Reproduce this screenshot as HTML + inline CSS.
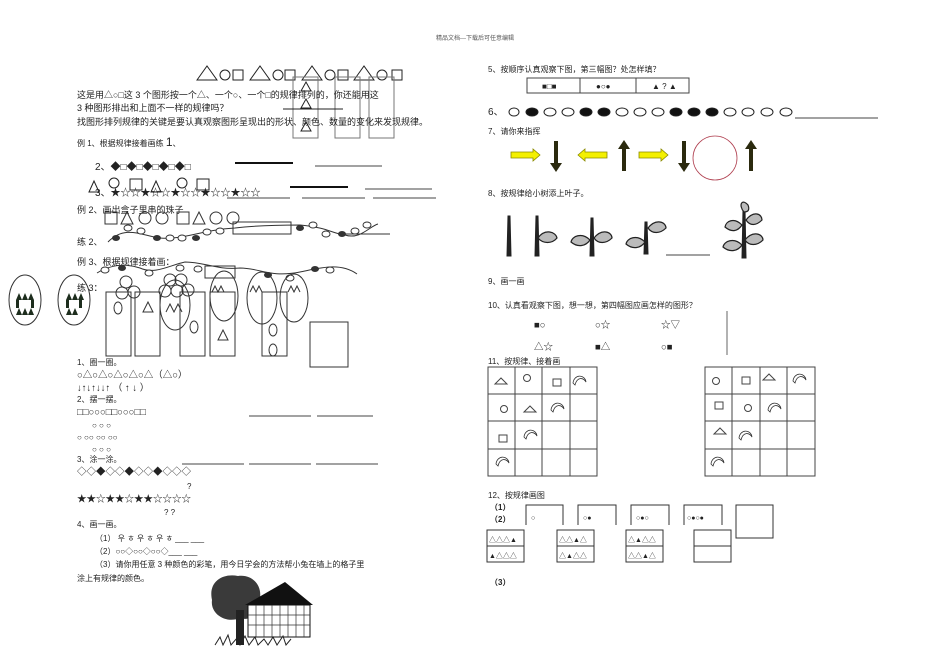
<!DOCTYPE html>
<html><head><meta charset="utf-8"><style>
html,body{margin:0;padding:0;background:#fff;}
svg{display:block;}
text{font-family:"Liberation Sans","Noto Sans CJK SC",sans-serif;font-size:9px;fill:#222;}
.s{font-size:8px;}
.m{font-size:9.5px;}
</style></head><body>
<svg width="950" height="672" viewBox="0 0 950 672" xmlns="http://www.w3.org/2000/svg">
<defs>
<path id="cres" d="M0,6 C1,-3 12,-3 13,5 C10,0 4,0 2,8 Z" fill="none" stroke="#333" stroke-width="0.8"/>
</defs>
<text x="475" y="40" text-anchor="middle" style="font-size:6px;fill:#555">精品文档---下载后可任意编辑</text>

<!-- LEFT COLUMN -->
<g fill="none" stroke="#222" stroke-width="1">
<path d="M197,80 l10,-14 l10,14z"/><circle cx="225" cy="75" r="5"/><rect x="233" y="70" width="10" height="10"/>
<path d="M250,80 l10,-14 l10,14z"/><circle cx="278" cy="75" r="5"/><rect x="285" y="70" width="10" height="10"/>
<path d="M302,80 l10,-14 l10,14z"/><circle cx="330" cy="75" r="5"/><rect x="338" y="70" width="10" height="10"/>
<path d="M354,80 l10,-14 l10,14z"/><circle cx="382" cy="75" r="5"/><rect x="392" y="70" width="10" height="10"/>
<rect x="293" y="77" width="25" height="61" stroke="#777"/><rect x="335" y="77" width="25" height="61" stroke="#777"/><rect x="369" y="77" width="25" height="61" stroke="#777"/>
<path d="M301,91 l5,-9 l5,9z M301,108 l5,-9 l5,9z M301,131 l5,-9 l5,9z"/>
</g>
<line x1="283" y1="109" x2="343" y2="109" stroke="#222"/>
<text x="77" y="98">这是用△○□这 3 个图形按一个△、一个○、一个□的规律排列的，你还能用这</text>
<text x="77" y="111">3 种图形排出和上面不一样的规律吗？</text>
<text x="77" y="125">找图形排列规律的关键是要认真观察图形呈现出的形状、颜色、数量的变化来发现规律。</text>
<text x="77" y="146" class="s">例 1、根据规律接着画练 <tspan style="font-size:12px">1</tspan>、</text>
<text x="95" y="170" style="font-size:10px">2、◆□◆□◆□◆□◆□</text>
<line x1="235" y1="163" x2="293" y2="163" stroke="#111" stroke-width="2"/>
<line x1="315" y1="166" x2="382" y2="166" stroke="#444"/>
<g fill="none" stroke="#222">
<path d="M89,192 l5,-11 l5,11z"/><circle cx="114" cy="183" r="5"/><rect x="130" y="179" width="12" height="11"/>
<path d="M151,192 l5,-11 l5,11z"/><circle cx="182" cy="183" r="5"/><rect x="197" y="179" width="12" height="11"/>
</g>
<text x="95" y="196" style="font-size:10px">3、★☆☆★☆☆★☆☆★☆☆★☆☆</text>
<line x1="290" y1="187" x2="348" y2="187" stroke="#111" stroke-width="2"/>
<line x1="365" y1="189" x2="432" y2="189" stroke="#444"/>
<line x1="227" y1="198" x2="290" y2="198" stroke="#444"/><line x1="302" y1="198" x2="365" y2="198" stroke="#444"/><line x1="373" y1="198" x2="436" y2="198" stroke="#444"/>
<text x="77" y="213">例 2、画出盒子里串的珠子</text>
<g fill="none" stroke="#333">
<rect x="105" y="212" width="12" height="12"/><path d="M121,224 l6,-12 l6,12z"/><circle cx="145" cy="218" r="6"/><circle cx="162" cy="218" r="6"/>
<rect x="177" y="212" width="12" height="12"/><path d="M193,224 l6,-12 l6,12z"/><circle cx="216" cy="218" r="6"/><circle cx="233" cy="218" r="6"/>
<path d="M108,242 C125,225 140,235 160,238 C185,240 200,230 235,228 C260,225 290,225 300,225 C330,228 330,233 345,235 C360,240 370,226 378,224"/>
<rect x="233" y="222" width="58" height="12"/>
<line x1="345" y1="234" x2="390" y2="234"/>
</g>
<g fill="#333"><ellipse cx="116" cy="238" rx="4" ry="3"/><ellipse cx="157" cy="238" rx="4" ry="3"/><ellipse cx="196" cy="238" rx="4" ry="3"/><ellipse cx="300" cy="228" rx="4" ry="3"/><ellipse cx="342" cy="234" rx="4" ry="3"/></g>
<g fill="#fff" stroke="#333"><ellipse cx="128" cy="228" rx="4" ry="3"/><ellipse cx="141" cy="231" rx="4" ry="3"/><ellipse cx="170" cy="238" rx="4" ry="3"/><ellipse cx="182" cy="238" rx="4" ry="3"/><ellipse cx="207" cy="232" rx="4" ry="3"/><ellipse cx="220" cy="231" rx="4" ry="3"/><ellipse cx="313" cy="225" rx="4" ry="3"/><ellipse cx="326" cy="234" rx="4" ry="3"/><ellipse cx="355" cy="231" rx="4" ry="3"/><ellipse cx="367" cy="225" rx="4" ry="3"/></g>
<text x="77" y="245">练 2、</text>
<text x="77" y="265">例 3、根据规律接着画：</text>
<g fill="none" stroke="#333">
<path d="M97,273 C110,265 125,263 140,268 C155,275 170,265 185,262 C205,262 215,270 240,268 C260,268 270,278 300,272 C320,268 340,262 357,274"/>
<rect x="205" y="266" width="30" height="12"/>
</g>
<g fill="#333"><ellipse cx="122" cy="268" rx="4" ry="3"/><ellipse cx="268" cy="275" rx="4" ry="3"/><ellipse cx="315" cy="269" rx="4" ry="3"/></g>
<g fill="#fff" stroke="#333"><ellipse cx="105" cy="270" rx="4" ry="3"/><ellipse cx="149" cy="273" rx="4" ry="3"/><ellipse cx="180" cy="268" rx="4" ry="3"/><ellipse cx="198" cy="269" rx="4" ry="3"/><ellipse cx="290" cy="278" rx="4" ry="3"/><ellipse cx="330" cy="270" rx="4" ry="3"/></g>
<text x="77" y="291">练 3：</text>
<g fill="none" stroke="#333">
<ellipse cx="25" cy="300" rx="16" ry="25"/><ellipse cx="74" cy="300" rx="16" ry="25"/>
<ellipse cx="175" cy="305" rx="15" ry="25"/><ellipse cx="224" cy="296" rx="14" ry="25"/><ellipse cx="262" cy="298" rx="15" ry="26"/><ellipse cx="294" cy="298" rx="14" ry="24"/>
<rect x="106" y="292" width="25" height="64"/><rect x="135" y="292" width="25" height="64"/><rect x="180" y="292" width="25" height="64"/><rect x="210" y="292" width="25" height="64"/><rect x="262" y="292" width="25" height="64"/>
<rect x="310" y="322" width="38" height="45"/>
<circle cx="126" cy="282" r="6"/><circle cx="122" cy="293" r="6"/><circle cx="134" cy="292" r="6"/>
<circle cx="170" cy="280" r="6"/><circle cx="181" cy="280" r="6"/><circle cx="165" cy="291" r="6"/><circle cx="177" cy="291" r="6"/><circle cx="188" cy="290" r="6"/>
<ellipse cx="118" cy="308" rx="4" ry="6"/><path d="M143,312 l5,-10 l5,10z"/><ellipse cx="194" cy="327" rx="4" ry="6"/><path d="M218,340 l5,-10 l5,10z"/><ellipse cx="273" cy="330" rx="4" ry="6"/><ellipse cx="273" cy="350" rx="4" ry="6"/>
<path d="M166,312 l4,-8 l4,8 l4,-8 l4,8 M212,292 l3,-6 l3,6 l3,-6 l3,6 M250,292 l3,-6 l3,6 l3,-6 l3,6 M288,292 l3,-6 l3,6 l3,-6 l3,6"/>
</g>
<g fill="#1d2d1d"><path d="M16,300 l3,-7 l3,7 l3,-7 l3,7 l3,-7 l3,7z M16,315 l3,-7 l3,7 l3,-7 l3,7 l3,-7 l3,7z"/><rect x="16" y="300" width="3" height="8"/><rect x="31" y="300" width="3" height="8"/>
<path d="M66,300 l3,-7 l3,7 l3,-7 l3,7 l3,-7 l3,7z M66,315 l3,-7 l3,7 l3,-7 l3,7z"/><rect x="66" y="300" width="3" height="8"/><rect x="79" y="300" width="3" height="8"/></g>

<text x="77" y="365" class="s">1、圈一圈。</text>
<text x="77" y="378" class="m">○△○△○△○△○△（△○）</text>
<text x="77" y="391" class="m">↓↑↓↑↓↓↑ （ ↑  ↓ ）</text>
<text x="77" y="402" class="s">2、摆一摆。</text>
<text x="77" y="415" class="m">□□○○○□□○○○□□</text>
<line x1="249" y1="416" x2="311" y2="416" stroke="#444"/><line x1="317" y1="416" x2="373" y2="416" stroke="#444"/>
<text x="92" y="428" class="s">○        ○        ○</text>
<text x="77" y="440" class="s">○  ○○    ○○    ○○</text>
<text x="92" y="452" class="s">○        ○        ○</text>
<text x="77" y="462" class="s">3、涂一涂。</text>
<line x1="182" y1="464" x2="244" y2="464" stroke="#444"/><line x1="249" y1="464" x2="311" y2="464" stroke="#444"/><line x1="316" y1="464" x2="378" y2="464" stroke="#444"/>
<text x="77" y="475" class="m">◇◇◆◇◇◆◇◇◆◇◇◇</text>
<text x="187" y="489" class="s">?</text>
<text x="77" y="502" class="m">★★☆★★☆★★☆☆☆☆</text>
<text x="164" y="515" class="s">? ?</text>
<text x="77" y="527" class="s">4、画一画。</text>
<text x="95" y="541" class="s">（1） 우 ㅎ 우 ㅎ 우 ㅎ  ___  ___</text>
<text x="95" y="554" class="s">（2）○○◇○○◇○○◇___  ___</text>
<text x="95" y="567" class="s">（3）请你用任意 3 种颜色的彩笔，用今日学会的方法帮小兔在墙上的格子里</text>
<text x="77" y="581" class="s">涂上有规律的颜色。</text>
<!-- tree and house -->
<g>
<path d="M212,600 C208,582 222,573 238,576 C252,574 262,585 260,598 C264,612 250,622 240,618 C226,624 210,614 212,600Z" fill="#3a3a3a"/>
<rect x="236" y="610" width="8" height="35" fill="#222"/>
<path d="M245,605 L285,582 L313,605 Z" fill="#111"/>
<rect x="248" y="605" width="62" height="32" fill="#fff" stroke="#111"/>
<g stroke="#333" stroke-width="0.7"><line x1="248" y1="615" x2="310" y2="615"/><line x1="248" y1="625" x2="310" y2="625"/>
<path d="M256,605v32M264,605v32M272,605v32M280,605v32M288,605v32M296,605v32M304,605v32"/></g>
<path d="M215,645 l5,-8 l3,8 l5,-10 l3,10 l6,-7 l3,7 l5,-9 l4,9 l6,-8 l3,8 l6,-6 l4,6 l5,-8 l4,8 l6,-9 l3,9 l5,-6" fill="none" stroke="#222"/>
</g>

<!-- RIGHT COLUMN -->
<text x="488" y="72" class="s">5、按顺序认真观察下图，第三幅图？处怎样填？</text>
<g fill="none" stroke="#444"><rect x="527" y="78" width="53" height="15"/><rect x="580" y="78" width="56" height="15"/><rect x="636" y="78" width="53" height="15"/></g>
<text x="542" y="89" class="s">■□■</text><text x="596" y="89" class="s">●○●</text><text x="652" y="89" class="s">▲ ? ▲</text>
<text x="488" y="115" style="font-size:10px">6、</text>
<g stroke="#222" fill="#fff">
<ellipse cx="514" cy="112" rx="5" ry="4"/><ellipse cx="532" cy="112" rx="6" ry="4" fill="#111"/><ellipse cx="550" cy="112" rx="6" ry="4"/><ellipse cx="568" cy="112" rx="6" ry="4"/><ellipse cx="586" cy="112" rx="6" ry="4" fill="#111"/><ellipse cx="604" cy="112" rx="6" ry="4" fill="#111"/><ellipse cx="622" cy="112" rx="6" ry="4"/><ellipse cx="640" cy="112" rx="6" ry="4"/><ellipse cx="658" cy="112" rx="6" ry="4"/><ellipse cx="676" cy="112" rx="6" ry="4" fill="#111"/><ellipse cx="694" cy="112" rx="6" ry="4" fill="#111"/><ellipse cx="712" cy="112" rx="6" ry="4" fill="#111"/><ellipse cx="730" cy="112" rx="6" ry="4"/><ellipse cx="748" cy="112" rx="6" ry="4"/><ellipse cx="767" cy="112" rx="6" ry="4"/><ellipse cx="786" cy="112" rx="6" ry="4"/>
</g>
<line x1="795" y1="118" x2="878" y2="118" stroke="#444"/>
<text x="488" y="134" class="s">7、请你来指挥</text>
<g fill="#f4f000" stroke="#8a8a00" stroke-width="0.8">
<path d="M511,152 h22 v-3 l7,6 l-7,6 v-3 h-22z"/><path d="M607,152 h-22 v-3 l-7,6 l7,6 v-3 h22z"/><path d="M639,152 h22 v-3 l7,6 l-7,6 v-3 h-22z"/>
</g>
<g fill="#2b2a0e">
<path d="M554,141 h4 v22 h4 l-6,9 l-6,-9 h4z"/><path d="M622,171 h4 v-22 h4 l-6,-9 l-6,9 h4z"/><path d="M682,141 h4 v22 h4 l-6,9 l-6,-9 h4z"/><path d="M749,171 h4 v-22 h4 l-6,-9 l-6,9 h4z"/>
</g>
<circle cx="715" cy="158" r="22" fill="none" stroke="#b04050" stroke-width="0.8"/>
<text x="488" y="196" class="s">8、按规律给小树添上叶子。</text>
<g fill="#222" stroke="#222">
<path d="M508,216 l2,0 l1,40 l-4,0z"/><path d="M536,216 l2,0 l1,40 l-4,0z"/><path d="M591,218 l2,0 l1,38 l-4,0z"/><path d="M645,222 l2,0 l1,32 l-4,0z"/><path d="M743,210 l2,0 l1,48 l-4,0z"/>
</g>
<g fill="#bbb" stroke="#222" stroke-width="1.2">
<path d="M538,238 C545,228 556,232 557,238 C552,244 543,244 538,238Z"/>
<path d="M590,240 C582,232 572,236 571,242 C578,248 586,246 590,240Z"/><path d="M594,238 C602,228 612,232 612,238 C606,244 598,244 594,238Z"/>
<path d="M645,242 C637,234 627,238 626,244 C633,250 641,248 645,242Z"/><path d="M648,228 C656,218 666,222 666,228 C660,234 652,234 648,228Z"/>
<path d="M742,245 C734,237 724,241 723,247 C730,253 738,251 742,245Z"/><path d="M745,240 C753,230 763,234 763,240 C757,246 749,246 745,240Z"/><path d="M742,225 C734,217 726,221 725,227 C732,233 738,231 742,225Z"/><path d="M746,220 C754,210 762,214 762,220 C756,226 750,226 746,220Z"/><path d="M744,212 C738,205 742,198 748,205 C750,210 748,212 744,212Z"/>
</g>
<line x1="666" y1="255" x2="710" y2="255" stroke="#444"/>
<text x="488" y="284" class="s">9、画一画</text>
<text x="488" y="308" class="s">10、认真看观察下图，想一想，第四幅图应画怎样的图形？</text>
<line x1="727" y1="311" x2="727" y2="355" stroke="#666"/>
<text x="534" y="328" class="m">■○</text><text x="595" y="328" class="m">○☆</text><text x="661" y="328" class="m">☆▽</text>
<text x="534" y="350" class="m">△☆</text><text x="595" y="350" class="m">■△</text><text x="661" y="350" class="m">○■</text>
<text x="488" y="364" class="s">11、按规律、接着画</text>
<g stroke="#444" fill="none">
<rect x="488" y="367" width="109" height="109"/><path d="M515,367v109M542,367v109M570,367v109M488,394h109M488,421h109M488,449h109"/>
<rect x="705" y="367" width="110" height="109"/><path d="M732,367v109M760,367v109M787,367v109M705,394h110M705,421h110M705,449h110"/>
<path d="M495,384 l6,-6 l6,6z"/><circle cx="527" cy="378" r="3.5"/><rect x="553" y="379" width="8" height="7"/>
<circle cx="504" cy="409" r="3.5"/><path d="M524,412 l6,-6 l6,6z"/><rect x="499" y="435" width="8" height="7"/>
<circle cx="716" cy="381" r="3.5"/><rect x="742" y="377" width="8" height="7"/><path d="M763,380 l6,-6 l6,6z"/>
<rect x="715" y="402" width="8" height="7"/><circle cx="748" cy="408" r="3.5"/><path d="M714,434 l6,-6 l6,6z"/>
</g>
<use href="#cres" x="573" y="377"/><use href="#cres" x="551" y="404"/><use href="#cres" x="524" y="431"/><use href="#cres" x="496" y="458"/>
<use href="#cres" x="793" y="375"/><use href="#cres" x="768" y="404"/><use href="#cres" x="739" y="432"/><use href="#cres" x="711" y="458"/>
<text x="488" y="498" class="s">12、按规律画图</text>
<text x="490" y="510" class="s" style="font-weight:bold">（1）</text>
<text x="490" y="522" class="s" style="font-weight:bold">（2）</text>
<g stroke="#333" fill="none">
<path d="M526,525 v-20 h37 v20 M578,525 v-20 h38 v20 M631,525 v-20 h38 v20 M684,525 v-20 h38 v20"/>
<rect x="736" y="505" width="37" height="33"/>
<rect x="487" y="530" width="37" height="32"/><line x1="487" y1="546" x2="524" y2="546"/>
<rect x="557" y="530" width="37" height="32"/><line x1="557" y1="546" x2="594" y2="546"/>
<rect x="626" y="530" width="37" height="32"/><line x1="626" y1="546" x2="663" y2="546"/>
<rect x="694" y="530" width="37" height="32"/><line x1="694" y1="546" x2="731" y2="546"/>
</g>
<text x="531" y="520" style="font-size:7px">○</text>
<text x="583" y="520" style="font-size:7px">○●</text>
<text x="636" y="520" style="font-size:7px">○●○</text>
<text x="687" y="520" style="font-size:7px">○●○●</text>
<text x="489" y="542" style="font-size:7px">△△△▲</text><text x="489" y="558" style="font-size:7px">▲△△△</text>
<text x="559" y="542" style="font-size:7px">△△▲△</text><text x="559" y="558" style="font-size:7px">△▲△△</text>
<text x="628" y="542" style="font-size:7px">△▲△△</text><text x="628" y="558" style="font-size:7px">△△▲△</text>
<text x="490" y="585" class="s" style="font-weight:bold">（3）</text>
</svg>
</body></html>
